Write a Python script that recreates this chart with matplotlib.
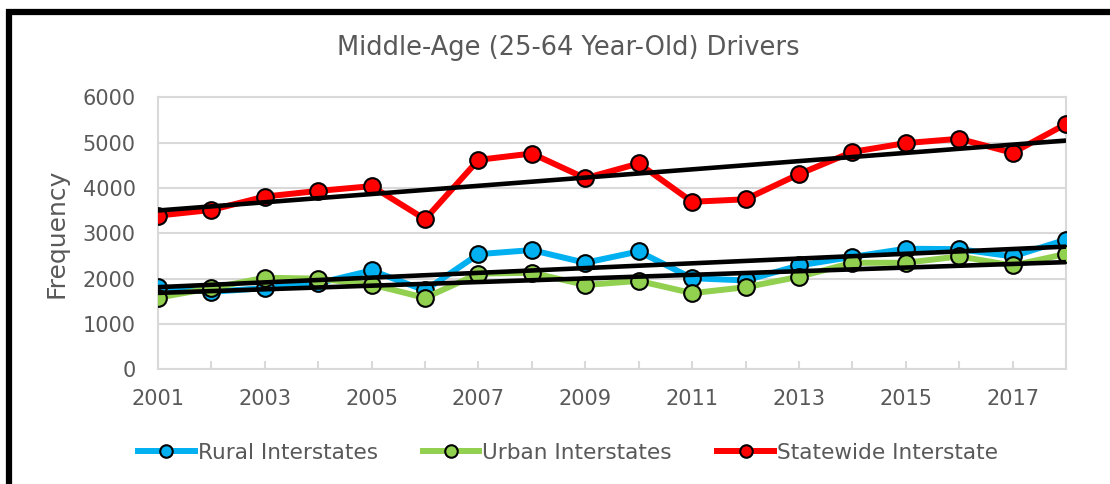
import numpy as np
import matplotlib.pyplot as plt
from matplotlib.patches import Rectangle

# Data
years = list(range(2001, 2019))
rural = [1820, 1710, 1790, 1900, 2180, 1740, 2540, 2630, 2350, 2600,
         2010, 1960, 2290, 2480, 2660, 2650, 2490, 2860]
urban = [1580, 1790, 2020, 2000, 1870, 1575, 2110, 2130, 1860, 1950,
         1680, 1810, 2040, 2350, 2350, 2490, 2290, 2545]
statewide = [3390, 3515, 3810, 3935, 4040, 3310, 4620, 4760, 4215, 4540,
             3695, 3750, 4305, 4795, 4990, 5085, 4775, 5410]

series = [
    ('Rural Interstates', rural, '#00B0F0'),
    ('Urban Interstates', urban, '#92D050'),
    ('Statewide Interstate', statewide, '#FF0000'),
]

plt.rcParams['font.family'] = ['DejaVu Sans']
text_col = '#595959'
grid_col = '#d9d9d9'

fig = plt.figure(figsize=(11.1, 4.84), dpi=100)
ax = fig.add_axes([158 / 1110, 1 - 369.3 / 484, (1066 - 158) / 1110, 272 / 484])

x = np.array(years)
for name, vals, col in series:
    ax.plot(x, vals, color=col, lw=4.3, marker='o', ms=12,
            mfc=col, mec='black', mew=1.5, label=name, zorder=3)

# linear trend lines (drawn on top like Excel)
for name, vals, col in series:
    k, b = np.polyfit(x, vals, 1)
    ax.plot([x[0], x[-1]], [k * x[0] + b, k * x[-1] + b],
            color='black', lw=3.3, zorder=4, solid_capstyle='butt')

ax.set_xlim(2001, 2018)
ax.set_ylim(0, 6000)
ax.set_yticks(range(0, 6001, 1000))
ax.set_xticks(years)
ax.set_xticklabels([str(y) if (y - 2001) % 2 == 0 else '' for y in years])
ax.yaxis.grid(True, color=grid_col, lw=1.5)
ax.set_axisbelow(True)
for s in ax.spines.values():
    s.set_color(grid_col)
    s.set_linewidth(1.5)
ax.tick_params(axis='x', direction='in', length=6, color=grid_col, width=1.5,
               labelsize=15, labelcolor=text_col, pad=14)
ax.tick_params(axis='y', length=0, labelsize=15, labelcolor=text_col, pad=16)

ax.set_ylabel('Frequency', fontsize=18, color=text_col, labelpad=10)
fig.text(568 / 1110, 1 - 48 / 484, 'Middle-Age (25-64 Year-Old) Drivers',
         ha='center', va='center', fontsize=18.5, color=text_col)

leg = fig.legend(loc='center', bbox_to_anchor=(568 / 1110, 1 - 453 / 484),
                 ncol=3, frameon=False, fontsize=15.6, handlelength=2.6,
                 handletextpad=0.14, columnspacing=2.1, markerscale=0.75)
for t in leg.get_texts():
    t.set_color(text_col)

# thick black outer border (cropped on right and bottom)
fig.patches.append(Rectangle((9 / 1110, -0.2), 1.5, 1 - 11.5 / 484 + 0.2,
                             transform=fig.transFigure, fill=False,
                             edgecolor='black', lw=4.5))

fig.savefig('out.png', dpi=100, facecolor='white')
